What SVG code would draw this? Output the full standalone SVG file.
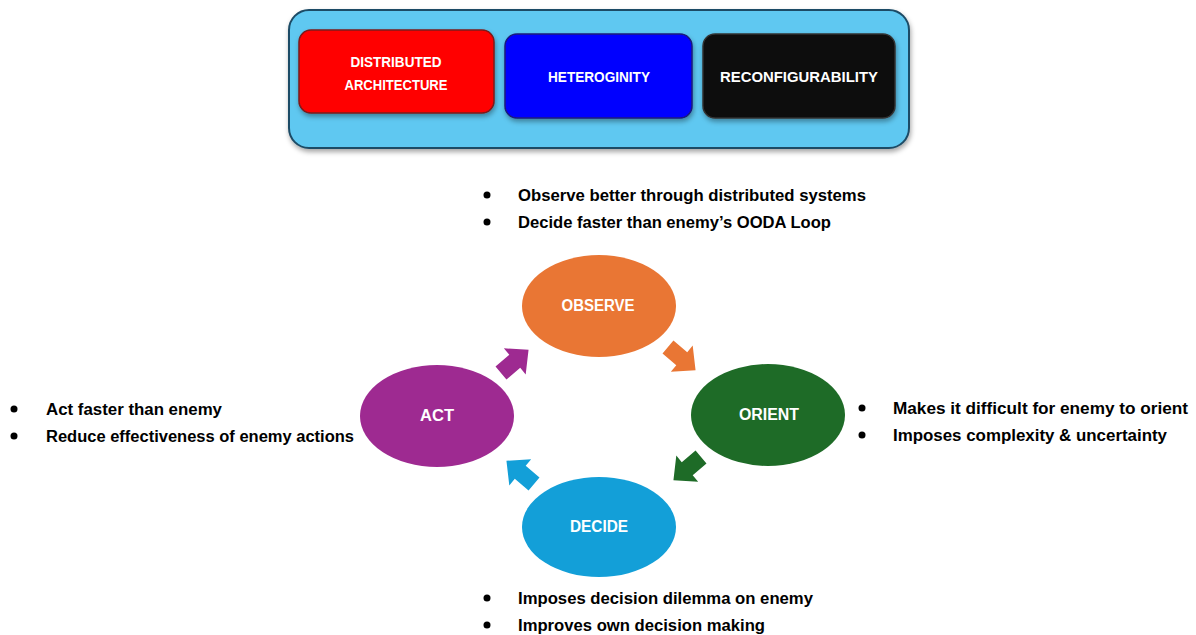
<svg xmlns="http://www.w3.org/2000/svg" width="1196" height="635" viewBox="0 0 1196 635">
<defs>
<filter id="sh" x="-10%" y="-10%" width="130%" height="140%">
<feDropShadow dx="1" dy="3" stdDeviation="2.5" flood-color="#000" flood-opacity="0.35"/>
</filter>
<path id="arr" d="M-17,-8.5 L1,-8.5 L1,-17 L19,0 L1,17 L1,8.5 L-17,8.5 Z"/>
</defs>
<style>
text{font-family:"Liberation Sans",Arial,sans-serif;font-weight:bold}
.box{font-size:14px;fill:#fff;text-anchor:middle}
.lbl{font-size:16px;fill:#fff;text-anchor:middle}
.bt{font-size:16px;fill:#000}
.bl{fill:#000}
</style>
<g id="container">
<rect x="289" y="10" width="620" height="138" rx="20" fill="#5EC8F1" stroke="#1E4C66" stroke-width="2" filter="url(#sh)"/>
</g>
<g id="distributed">
<rect x="299" y="30" width="195" height="83" rx="12" fill="#FF0000" stroke="#7a1a1a" stroke-width="1.5" filter="url(#sh)"/>
<text class="box" x="396" y="67" textLength="91" lengthAdjust="spacingAndGlyphs">DISTRIBUTED</text>
<text class="box" x="396" y="90" textLength="103" lengthAdjust="spacingAndGlyphs">ARCHITECTURE</text>
</g>
<g id="heteroginity">
<rect x="505" y="34" width="187" height="84" rx="12" fill="#0000FF" stroke="#1a1a7a" stroke-width="1.5" filter="url(#sh)"/>
<text class="box" x="599" y="82" textLength="102" lengthAdjust="spacingAndGlyphs">HETEROGINITY</text>
</g>
<g id="reconfigurability">
<rect x="703" y="34" width="192" height="84" rx="12" fill="#0A0A0A" stroke="#333" stroke-width="1.5" filter="url(#sh)"/>
<text class="box" x="799" y="82" textLength="158" lengthAdjust="spacingAndGlyphs">RECONFIGURABILITY</text>
</g>
<g id="observe">
<ellipse cx="599" cy="306" rx="77" ry="51" fill="#E97634"/>
<text class="lbl" x="598" y="311" textLength="73" lengthAdjust="spacingAndGlyphs">OBSERVE</text>
</g>
<g id="orient">
<ellipse cx="768" cy="415" rx="77" ry="51" fill="#1E6B27"/>
<text class="lbl" x="769" y="420" textLength="60" lengthAdjust="spacingAndGlyphs">ORIENT</text>
</g>
<g id="decide">
<ellipse cx="599" cy="527" rx="77" ry="50" fill="#139FD8"/>
<text class="lbl" x="599" y="532" textLength="58" lengthAdjust="spacingAndGlyphs">DECIDE</text>
</g>
<g id="act">
<ellipse cx="437" cy="416" rx="77" ry="51" fill="#9E2A91"/>
<text class="lbl" x="437" y="421" textLength="34" lengthAdjust="spacingAndGlyphs">ACT</text>
</g>
<g id="connectors">
<use href="#arr" fill="#E97634" transform="translate(681,358) rotate(40)"/>
<use href="#arr" fill="#1E6B27" transform="translate(688,468) rotate(140)"/>
<use href="#arr" fill="#139FD8" transform="translate(521,473) rotate(-140)"/>
<use href="#arr" fill="#9E2A91" transform="translate(514,362) rotate(-40)"/>
</g>
<g id="notes-top">
<circle class="bl" cx="487" cy="195" r="3.5"/>
<circle class="bl" cx="487" cy="222" r="3.5"/>
<text class="bt" x="518" y="201" textLength="348" lengthAdjust="spacingAndGlyphs">Observe better through distributed systems</text>
<text class="bt" x="518" y="228" textLength="313" lengthAdjust="spacingAndGlyphs">Decide faster than enemy’s OODA Loop</text>
</g>
<g id="notes-left">
<circle class="bl" cx="14" cy="409" r="3.5"/>
<circle class="bl" cx="14" cy="436" r="3.5"/>
<text class="bt" x="46" y="415" textLength="176" lengthAdjust="spacingAndGlyphs">Act faster than enemy</text>
<text class="bt" x="46" y="442" textLength="308" lengthAdjust="spacingAndGlyphs">Reduce effectiveness of enemy actions</text>
</g>
<g id="notes-right">
<circle class="bl" cx="862" cy="408" r="3.5"/>
<circle class="bl" cx="862" cy="435" r="3.5"/>
<text class="bt" x="893" y="414" textLength="295" lengthAdjust="spacingAndGlyphs">Makes it difficult for enemy to orient</text>
<text class="bt" x="893" y="441" textLength="274" lengthAdjust="spacingAndGlyphs">Imposes complexity &amp; uncertainty</text>
</g>
<g id="notes-bottom">
<circle class="bl" cx="487" cy="598" r="3.5"/>
<circle class="bl" cx="487" cy="625" r="3.5"/>
<text class="bt" x="518" y="604" textLength="295" lengthAdjust="spacingAndGlyphs">Imposes decision dilemma on enemy</text>
<text class="bt" x="518" y="631" textLength="247" lengthAdjust="spacingAndGlyphs">Improves own decision making</text>
</g>
</svg>
